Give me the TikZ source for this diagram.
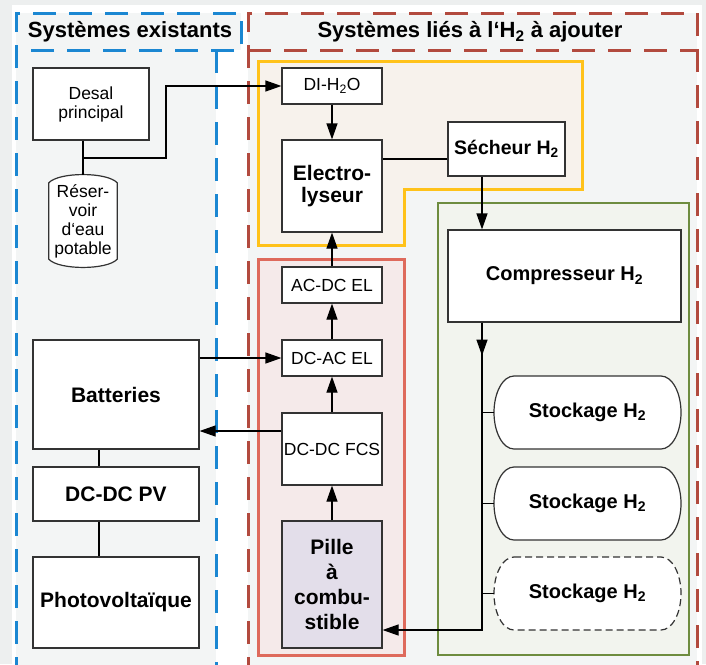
\documentclass[tikz,border=0pt]{standalone}
\usepackage{fontspec}
\setmainfont{Liberation Sans}
\usepackage{xcolor}
\usepackage{tikz}
\usetikzlibrary{arrows.meta}

\definecolor{pagegray}{HTML}{EDEFEF}
\definecolor{zonegray}{HTML}{F3F5F5}
\definecolor{existblue}{HTML}{1B87D2}
\definecolor{addred}{HTML}{B24A3E}
\definecolor{elecyellow}{HTML}{FFC21A}
\definecolor{elecfill}{HTML}{F7F2EC}
\definecolor{convred}{HTML}{DE6A5C}
\definecolor{convfill}{HTML}{F5EAEA}
\definecolor{storegreen}{HTML}{6E8C3F}
\definecolor{storefill}{HTML}{F2F4EE}
\definecolor{pilefill}{HTML}{E3DEEA}

\begin{document}
\begin{tikzpicture}[
				x=1pt, y=-1pt,
				block/.style={rectangle, draw=black!80, line width=1.2pt, fill=white, align=center, inner sep=1pt},
				bigtxt/.style={font=\bfseries\fontsize{21}{21.5}\selectfont},
				smalltxt/.style={font=\fontsize{17.5}{19}\selectfont},
				tank/.style={rectangle, minimum width=187pt, minimum height=73pt, inner sep=1pt, font=\bfseries\fontsize{20}{22}\selectfont},
				tankline/.style={draw=black!80, line width=1.2pt, fill=white},
				tankdash/.style={dash pattern=on 7pt off 4pt},
				arrow/.style={-{Triangle[length=16pt,width=11pt]}, line width=1.2pt},
				wire/.style={line width=1.2pt},
				frame/.style={line width=3pt, dash pattern=on 23pt off 13pt},
				title/.style={font=\bfseries\fontsize{22}{24}\selectfont}
				]
				\useasboundingbox (0,0) rectangle (706,664);
				\clip (0,0) rectangle (706,664);
				\fill[pagegray] (0,0) rectangle (706,664);
				\fill[white] (12,5) rectangle (702,664);
				
				% Groups
				\fill[zonegray] (16,13) rectangle (241,50);
				\fill[zonegray] (16,50) rectangle (216,680);
				\draw[frame, existblue] (16,680) -- (16,13) -- (241,13) -- (241,50) -- (16,50);
				\draw[frame, existblue] (216,50) -- (216,680);
				\fill[zonegray] (248,13) rectangle (697,680);
				\draw[frame, addred] (248,680) -- (248,13) -- (697,13) -- (697,680);
				\draw[frame, addred] (248,50) -- (697,50);
				\draw[elecyellow, fill=elecfill, line width=3pt] (258,61) -- (582,61) -- (582,189) -- (404,189) -- (404,245) -- (258,245) -- cycle;
				\draw[convred, fill=convfill, line width=3pt] (258,259) rectangle (404,655);
				\draw[storegreen, fill=storefill, line width=2.6pt] (438,203) rectangle (689,655);
				
				% Tank outlines
				\foreach \ty/\tstyle in {412.5/solid, 503.5/solid, 593.5/tankdash} {
					\draw[tankline, \tstyle] (514,\ty-36.5) -- (661,\ty-36.5) arc[start angle=90, end angle=-90, x radius=20pt, y radius=36.5pt] -- (514,\ty+36.5) arc[start angle=270, end angle=90, x radius=20pt, y radius=36.5pt] -- cycle;
				}
				
				\node (hexist) [title] at (130,32) {Systèmes existants};
				\node (hadd) [title] at (470,32) {Systèmes liés à l‘H\textsubscript{2} à ajouter};
				
				% Nodes
				\node (desal) [block, smalltxt, minimum width=116pt, minimum height=72pt] at (91,104) {Desal\\principal};
				\node (res) [inner sep=0pt, minimum width=68pt, minimum height=76pt] at (83,221) {};
				\node (di) [block, smalltxt, minimum width=100pt, minimum height=36pt] at (332,86) {DI-H\textsubscript{2}O};
				\node (elec) [block, bigtxt, minimum width=100pt, minimum height=92pt] at (332,186) {Electro-\\lyseur};
				\node (sech) [block, font=\bfseries\fontsize{19.5}{21}\selectfont, minimum width=117pt, minimum height=54pt] at (506.5,149) {Sécheur H\textsubscript{2}};
				\node (comp) [block, font=\bfseries\fontsize{20}{22}\selectfont, minimum width=233pt, minimum height=92pt] at (564.5,276) {Compresseur H\textsubscript{2}};
				\node (st1) [tank] at (587.5,412.5) {Stockage H\textsubscript{2}};
				\node (st2) [tank] at (587.5,503.5) {Stockage H\textsubscript{2}};
				\node (st3) [tank] at (587.5,593.5) {Stockage H\textsubscript{2}};
				\node (acdc) [block, smalltxt, minimum width=100pt, minimum height=36pt] at (332,285) {AC-DC EL};
				\node (dcac) [block, smalltxt, minimum width=100pt, minimum height=36pt] at (332,358) {DC-AC EL};
				\node (fcs) [block, smalltxt, minimum width=100pt, minimum height=72pt] at (332,449) {DC-DC FCS};
				\node (pile) [block, fill=pilefill, font=\bfseries\fontsize{21}{25}\selectfont, minimum width=100pt, minimum height=127pt] at (332,584.5) {Pille\\à\\combu-\\stible};
				\node (batt) [block, bigtxt, minimum width=166pt, minimum height=109pt] at (116,394.5) {Batteries};
				\node (pvconv) [block, bigtxt, minimum width=166pt, minimum height=54pt] at (116,494) {DC-DC PV};
				\node (pv) [block, bigtxt, minimum width=166pt, minimum height=91pt] at (116,602.5) {Photovoltaïque};
				
				% Reservoir outline
				\draw[wire, draw=black!80, fill=white] (res.north west) .. controls +(10,-11) and +(-10,-11) .. (res.north east) -- (res.south east) .. controls +(-10,11) and +(10,11) .. (res.south west) -- cycle;
				\node (restxt) [smalltxt, align=center, inner sep=0pt] at (res) {Réser-\\voir\\d‘eau\\potable};
				
				% Arrows
				\coordinate (tap) at (83,158);
				\draw [wire] (desal.south -| tap) -- ([yshift=8pt]res.north);
				\draw [arrow] (tap) -- ++(83,0) |- (di.west);
				\draw [arrow] (di) -- (elec);
				\draw [wire] ([yshift=-10pt]sech.west) -- ([yshift=-10pt]sech.west -| elec.east);
				\draw [arrow] ([xshift=-24.5pt]sech.south) -- ([xshift=-24.5pt]sech.south |- comp.north);
				\coordinate (trunk) at ([xshift=-82.5pt]comp.south);
				\draw [arrow] (trunk) |- ([yshift=-45.5pt]pile.east);
				\draw [arrow] (trunk) -- ++(0,33);
				\draw [wire] (st1.west) -- (st1.west -| trunk);
				\draw [wire] (st2.west) -- (st2.west -| trunk);
				\draw [wire] (st3.west) -- (st3.west -| trunk);
				\draw [arrow] (acdc) -- (elec);
				\draw [arrow] (dcac) -- (acdc);
				\draw [arrow] (fcs) -- (dcac);
				\draw [arrow] (pile) -- (fcs);
				\draw [arrow] (batt.east |- dcac) -- (dcac.west);
				\draw [arrow] ([yshift=18pt]fcs.west) -- ([yshift=18pt]fcs.west -| batt.east);
				\draw [wire] ([xshift=-17pt]batt.south) -- ([xshift=-17pt]pvconv.north);
				\draw [wire] ([xshift=-17pt]pvconv.south) -- ([xshift=-17pt]pv.north);
			\end{tikzpicture}
\end{document}
